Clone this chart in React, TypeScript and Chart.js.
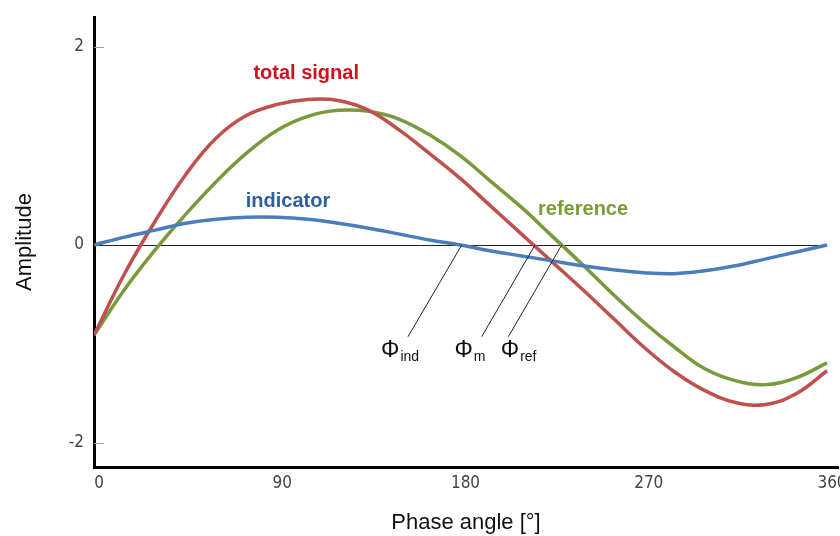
import React, { useEffect, useRef } from "react";
import { Chart, registerables } from "chart.js";

Chart.register(...registerables);

// Phase angle (degrees)
const angles = [0, 15, 30, 45, 60, 75, 90, 105, 120, 135, 150, 165, 180, 195, 210, 225, 240, 255, 270, 285, 300, 315, 330, 345, 360];
// Series values (amplitude)
const totalSignal = [-0.91, -0.29, 0.24, 0.71, 1.08, 1.31, 1.42, 1.47, 1.46, 1.36, 1.16, 0.92, 0.67, 0.39, 0.11, -0.17, -0.45, -0.74, -1.03, -1.28, -1.47, -1.59, -1.61, -1.5, -1.27];
const reference = [-0.91, -0.45, -0.05, 0.31, 0.64, 0.93, 1.16, 1.3, 1.36, 1.35, 1.27, 1.11, 0.9, 0.64, 0.38, 0.09, -0.2, -0.5, -0.78, -1.03, -1.25, -1.37, -1.41, -1.34, -1.19];
const indicator = [0.0, 0.08, 0.15, 0.22, 0.26, 0.28, 0.28, 0.26, 0.22, 0.17, 0.11, 0.05, 0.0, -0.06, -0.11, -0.16, -0.21, -0.25, -0.28, -0.29, -0.26, -0.21, -0.14, -0.07, 0.0];

const xTickValues = [0, 90, 180, 270, 360];
const yTickValues = [-2, 0, 2];

// Zero crossings (phase) of indicator, total signal and reference
const phiNames = ["ind", "m", "ref"];
const phiCrossings = [180.6, 216.6, 229.7];
const phiLineEnds = [154.2, 190.4, 203.5];
const phiLabelX = [141.0, 177.0, 199.8];

const COLORS = {
  total: "#c0504d",
  reference: "#789a3c",
  indicator: "#4a7ebb",
  totalText: "#d0101e",
  referenceText: "#7a9a3c",
  indicatorText: "#2e5f99",
};

const seriesLabels = [
  { text: "total signal", x: 104.2, y: 1.677, color: COLORS.totalText },
  { text: "indicator", x: 95.3, y: 0.388, color: COLORS.indicatorText },
  { text: "reference", x: 240.2, y: 0.303, color: COLORS.referenceText },
];

const annotationPlugin = {
  id: "annot",
  beforeDatasetsDraw(chart: any) {
    const { ctx, scales } = chart;
    const x = scales.x, y = scales.y;
    ctx.save();
    ctx.strokeStyle = "#222";
    ctx.lineWidth = 1;
    ctx.beginPath();
    const y0 = Math.round(y.getPixelForValue(0)) + 0.5;
    ctx.moveTo(x.getPixelForValue(0), y0);
    ctx.lineTo(x.getPixelForValue(360), y0);
    ctx.stroke();
    ctx.strokeStyle = "#8da2bd";
    ctx.lineWidth = 1;
    for (const v of [2, -2]) {
      const py = Math.round(y.getPixelForValue(v)) + 0.5;
      ctx.beginPath();
      ctx.moveTo(x.left, py);
      ctx.lineTo(x.left + 10, py);
      ctx.stroke();
    }
    ctx.restore();
  },
  afterDatasetsDraw(chart: any) {
    const { ctx, scales } = chart;
    const x = scales.x, y = scales.y;
    ctx.save();
    ctx.strokeStyle = "#222";
    ctx.lineWidth = 1;
    for (let i = 0; i < phiCrossings.length; i++) {
      ctx.beginPath();
      ctx.moveTo(x.getPixelForValue(phiCrossings[i]), y.getPixelForValue(0));
      ctx.lineTo(x.getPixelForValue(phiLineEnds[i]), y.getPixelForValue(-0.926));
      ctx.stroke();
    }
    ctx.fillStyle = "#111";
    ctx.textBaseline = "alphabetic";
    ctx.textAlign = "left";
    for (let i = 0; i < phiNames.length; i++) {
      const px = x.getPixelForValue(phiLabelX[i]);
      const py = y.getPixelForValue(-1.13);
      ctx.font = "23px 'Liberation Sans', Arial, sans-serif";
      ctx.fillText("Φ", px, py);
      const w = ctx.measureText("Φ").width;
      ctx.font = "14px 'Liberation Sans', Arial, sans-serif";
      ctx.fillText(phiNames[i], px + w + 1, py + 4);
    }
    ctx.textAlign = "center";
    ctx.font = "bold 20px 'Liberation Sans', Arial, sans-serif";
    for (const l of seriesLabels) {
      ctx.fillStyle = l.color;
      ctx.fillText(l.text, x.getPixelForValue(l.x), y.getPixelForValue(l.y));
    }
    ctx.restore();
  },
};

export default function App() {
  const ref = useRef<HTMLCanvasElement | null>(null);
  useEffect(() => {
    if (!ref.current) return;
    const mk = (vals: number[]) => angles.map((a, i) => ({ x: a, y: vals[i] }));
    const chart = new Chart(ref.current, {
      type: "line",
      data: {
        datasets: [
          { label: "indicator", data: mk(indicator), borderColor: COLORS.indicator, borderWidth: 3.5, pointRadius: 0, tension: 0.4 },
          { label: "total signal", data: mk(totalSignal), borderColor: COLORS.total, borderWidth: 3.5, pointRadius: 0, tension: 0.4 },
          { label: "reference", data: mk(reference), borderColor: COLORS.reference, borderWidth: 3.5, pointRadius: 0, tension: 0.4 },
        ],
      },
      options: {
        responsive: false,
        animation: false,
        layout: { padding: { top: 17, right: 2, left: 0, bottom: 0 } },
        plugins: { legend: { display: false }, tooltip: { enabled: false } },
        scales: {
          x: {
            type: "linear",
            min: 0,
            max: 365.4,
            grid: { display: false, drawTicks: false },
            border: { display: true, color: "#000", width: 3 },
            afterBuildTicks: (s: any) => { s.ticks = xTickValues.map((v) => ({ value: v })); },
            afterFit: (s: any) => { s.height = 69; s.paddingLeft = 0; s.paddingRight = 0; },
            ticks: {
              autoSkip: false,
              maxRotation: 0,
              padding: 6,
              labelOffset: 5,
              color: "#444",
              font: { family: "'Liberation Sans Narrow', 'DejaVu Sans Condensed', Arial, sans-serif", size: 17 },
              callback: (v: any) => String(v),
            },
            title: {
              display: true,
              text: "Phase angle [°]",
              color: "#111",
              font: { family: "'Liberation Sans', Arial, sans-serif", size: 22 },
              padding: { top: 0, bottom: 0 },
            },
          },
          y: {
            type: "linear",
            min: -2.242,
            max: 2.303,
            grid: { display: false, drawTicks: false },
            border: { display: true, color: "#000", width: 3 },
            afterBuildTicks: (s: any) => { s.ticks = yTickValues.map((v) => ({ value: v })); },
            afterFit: (s: any) => { s.width = 94; s.paddingTop = 0; s.paddingBottom = 0; },
            ticks: {
              padding: 10,
              color: "#444",
              font: { family: "'Liberation Sans Narrow', 'DejaVu Sans Condensed', Arial, sans-serif", size: 17 },
              callback: (v: any) => String(v),
            },
            title: {
              display: true,
              text: "Amplitude",
              color: "#111",
              font: { family: "'Liberation Sans', Arial, sans-serif", size: 22 },
              padding: { top: 12, bottom: 0 },
            },
          },
        },
      },
      plugins: [annotationPlugin],
    });
    return () => chart.destroy();
  }, []);
  return (
    <div style={{ position: "absolute", left: 0, top: 0, width: 840, height: 536, background: "#fff" }}>
      <canvas ref={ref} width={840} height={536} style={{ display: "block" }} />
    </div>
  );
}
